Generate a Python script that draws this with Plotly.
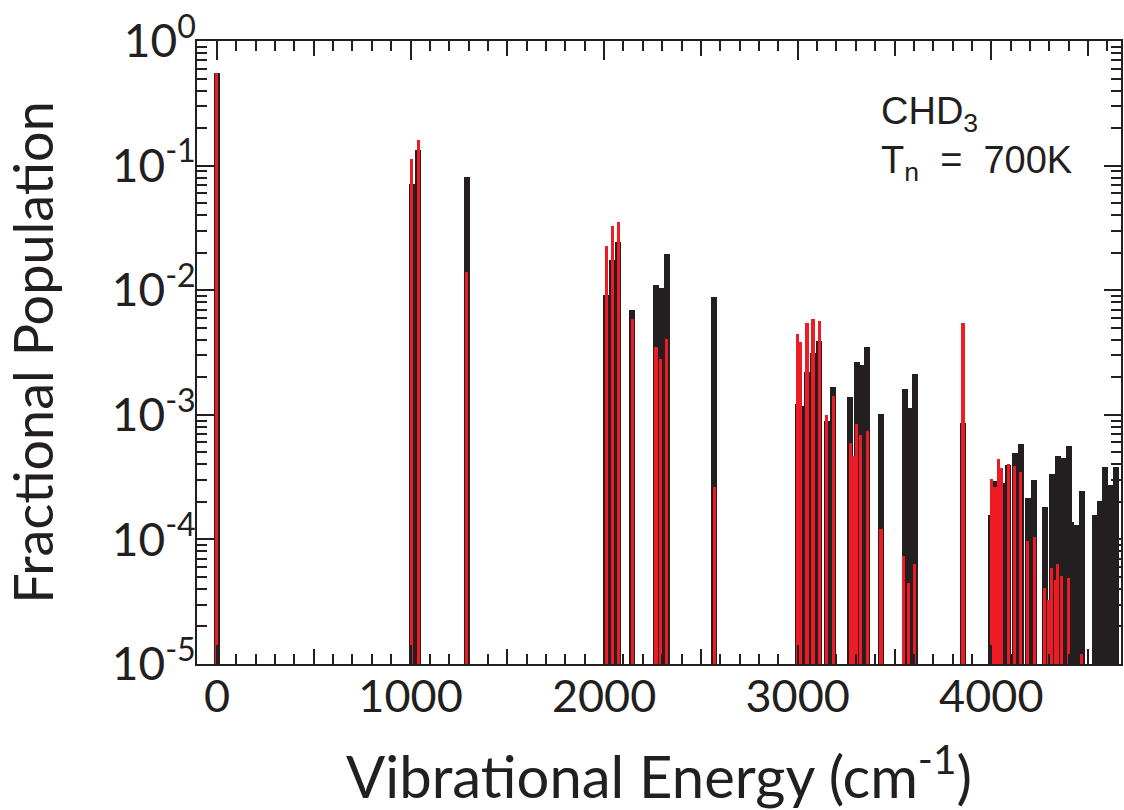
import plotly.graph_objects as go

# ---- data ----
black_energy = [0, 1005, 1038, 1291, 2010, 2041, 2074, 2146, 2266, 2296, 2325, 2569,
                3000, 3018, 3046, 3077, 3112, 3149, 3183, 3272, 3304, 3325, 3359, 3430,
                3552, 3579, 3607, 3854, 3998, 4020, 4057, 4088, 4120, 4152, 4187, 4222,
                4277, 4311, 4342, 4371, 4399, 4412, 4439, 4467, 4534, 4560, 4588, 4616, 4646]
black_pop = [0.558, 0.0718, 0.134, 0.0817, 0.00923, 0.0174, 0.0242, 0.0070, 0.0110, 0.0105, 0.0194, 0.00885,
             0.00122, 0.00117, 0.00222, 0.00311, 0.00388, 0.00090, 0.00167, 0.00140, 0.00264, 0.00251, 0.00348, 0.00102,
             0.00160, 0.00114, 0.00212, 0.000857, 0.000158, 0.000293, 0.000284, 0.000398, 0.000497, 0.000578, 0.000215, 0.000302,
             0.000181, 0.000335, 0.00047, 0.00045, 0.000558, 0.000137, 0.000131, 0.000244, 0.000158, 0.000202, 0.000381, 0.000272, 0.000381]

red_energy = [0, 1004, 1039, 1291, 2010, 2041, 2074, 2146, 2268, 2289, 2321, 2569,
              2998, 3013, 3048, 3079, 3113, 3151, 3186, 3272, 3288, 3304, 3326, 3361, 3430,
              3548, 3572, 3604, 3854, 4002, 4019, 4036, 4053, 4088, 4120, 4152, 4187, 4223,
              4277, 4296, 4311, 4331, 4344, 4364, 4399, 4467]
red_pop = [0.558, 0.112, 0.161, 0.0140, 0.0226, 0.0327, 0.0352, 0.00586, 0.0035, 0.0028, 0.00406, 0.000263,
           0.00447, 0.00381, 0.00544, 0.00586, 0.00565, 0.00099, 0.00141, 0.00059, 0.00047, 0.00085, 0.000683, 0.000736, 0.000122,
           0.0000741, 0.0000445, 0.0000635, 0.00544, 0.000308, 0.000264, 0.000442, 0.000377, 0.000406, 0.000389, 0.00035, 0.0000977, 0.000105,
           0.0000406, 0.0000327, 0.0000586, 0.000047, 0.000063, 0.000051, 0.000049, 0.000012]

x_major = [0, 1000, 2000, 3000, 4000]
x_major_text = ["0", "1000", "2000", "3000", "4000"]
x_mid = [500, 1500, 2500, 3500, 4500]
x_minor = [v for v in range(-100, 4700, 100)]
y_major = [1e-5, 1e-4, 1e-3, 1e-2, 1e-1, 1]
y_major_text = ["10<sup>-5</sup>", "10<sup>-4</sup>", "10<sup>-3</sup>", "10<sup>-2</sup>",
                "10<sup>-1</sup>", "10<sup>0</sup>"]
y_minor = [m * 10 ** e for e in range(-5, 0) for m in range(2, 10)]

BLACK = "#231f20"
RED = "#ed1c24"
FONT = "Lato"

fig = go.Figure()
fig.add_trace(go.Bar(x=black_energy, y=black_pop, width=31, marker=dict(color=BLACK, line=dict(width=0)),
                     showlegend=False))
fig.add_trace(go.Bar(x=red_energy, y=red_pop, width=16, marker=dict(color=RED, line=dict(width=0)),
                     showlegend=False))
# helper (empty) trace for the overlay axis carrying the 500-step ticks
fig.add_trace(go.Scatter(x=[None], y=[None], xaxis="x2", yaxis="y", showlegend=False, hoverinfo="skip"))

xr = [-103, 4670]
fig.update_layout(
    width=1124, height=810,
    margin=dict(l=197, r=1, t=41, b=146),
    paper_bgcolor="white", plot_bgcolor="white",
    barmode="overlay", bargap=0,
    font=dict(family=FONT, color=BLACK),
    xaxis=dict(
        range=xr, showgrid=False, zeroline=False,
        showline=True, linecolor=BLACK, linewidth=2, mirror="ticks",
        ticks="inside", ticklen=19, tickwidth=2, tickcolor=BLACK,
        tickmode="array", tickvals=x_major, ticktext=x_major_text,
        tickfont=dict(size=45, family=FONT, color=BLACK),
        ticklabelstandoff=-8,
        minor=dict(tickmode="array", tickvals=x_minor, ticks="inside", ticklen=10,
                   tickwidth=1.5, tickcolor=BLACK, showgrid=False),
        title=dict(text="Vibrational Energy (cm<sup>-1</sup>)", font=dict(size=58, family=FONT, color=BLACK),
                   standoff=44),
    ),
    xaxis2=dict(
        range=xr, overlaying="x", anchor="y", side="bottom", showgrid=False, zeroline=False,
        showline=False, mirror="ticks",
        ticks="inside", ticklen=15, tickwidth=2, tickcolor=BLACK,
        tickmode="array", tickvals=x_mid, showticklabels=False,
    ),
    yaxis=dict(
        type="log", range=[-5, 0], showgrid=False, zeroline=False,
        showline=True, linecolor=BLACK, linewidth=2, mirror="ticks",
        ticks="inside", ticklen=17, tickwidth=2, tickcolor=BLACK,
        tickmode="array", tickvals=y_major, ticktext=y_major_text,
        tickfont=dict(size=46, family=FONT, color=BLACK),
        ticklabelstandoff=-10,
        minor=dict(tickmode="array", tickvals=y_minor, ticks="inside", ticklen=10,
                   tickwidth=1.5, tickcolor=BLACK, showgrid=False),
        title=dict(text="Fractional Population", font=dict(size=54, family=FONT, color=BLACK),
                   standoff=44),
    ),
    annotations=[dict(
        xref="paper", yref="paper", x=(880 - 197) / 926, y=1 - (88 - 41) / 623,
        xanchor="left", yanchor="top", align="left", showarrow=False,
        text="CHD<sub>3</sub><br>T<sub>n</sub>&nbsp; = &nbsp;700K",
        font=dict(size=38, family="Liberation Sans", color=BLACK),
    )],
)

fig.write_html("out.html")
